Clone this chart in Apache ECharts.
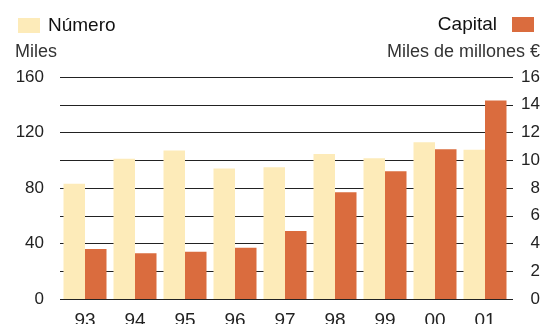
<!DOCTYPE html>
<html>
<head>
<meta charset="utf-8">
<script src="https://cdn.jsdelivr.net/npm/echarts@6/dist/echarts.min.js"></script>
<style>
  html, body { margin: 0; padding: 0; background: #fff; }
  #chart { width: 543px; height: 324px; }
</style>
</head>
<body>
<div id="chart"></div>
<script>
// años (eje x)
const years = ['93', '94', '95', '96', '97', '98', '99', '00', '01'];
// Número, miles (eje izquierdo)
const numero = [83, 101, 107, 94, 95, 104.5, 101.5, 113, 107.5];
// Capital, miles de millones € (eje derecho)
const capital = [3.6, 3.3, 3.4, 3.7, 4.9, 7.7, 9.2, 10.8, 14.3];

const yellow = '#fdebb9';
const orange = '#da6c3e';
const font = 'Liberation Sans, Arial, sans-serif';

let chart = echarts.init(document.getElementById('chart'));
chart.setOption({
    animation: false,
    textStyle: { fontFamily: font },
    legend: [
        {
            data: ['Número'],
            left: 13, top: 11,
            icon: 'rect',
            itemWidth: 22, itemHeight: 15, itemGap: 8,
            textStyle: { fontSize: 19, color: '#111', fontFamily: font, padding: [0, 0, 0, 3] }
        },
        {
            data: ['Capital'],
            right: 4, top: 10,
            align: 'right',
            icon: 'rect',
            itemWidth: 22, itemHeight: 15,
            textStyle: { fontSize: 19, color: '#111', fontFamily: font, padding: [0, 10, 0, 0] }
        }
    ],
    graphic: [
        { type: 'text', left: 15, top: 43, style: { text: 'Miles', fontSize: 18, fill: '#333', fontFamily: font } },
        { type: 'text', right: 3, top: 43, style: { text: 'Miles de millones €', fontSize: 18, fill: '#333', fontFamily: font } }
    ],
    grid: { left: 60, right: 33, top: 77, bottom: 25, outerBoundsMode: 'none' },
    xAxis: {
        type: 'category',
        data: years,
        axisLine: { show: false },
        axisTick: { show: false },
        axisLabel: { fontSize: 19, color: '#222', margin: 12 }
    },
    yAxis: [
        {
            type: 'value',
            min: 0, max: 160, interval: 20,
            axisLine: { show: false },
            axisTick: { show: false },
            splitLine: { lineStyle: { color: '#222', width: 1 } },
            axisLabel: {
                fontSize: 17, color: '#222', margin: 16,
                formatter: v => (v % 40 === 0 ? v : '')
            }
        },
        {
            type: 'value',
            min: 0, max: 16, interval: 2,
            axisLine: { show: false },
            axisTick: { show: true, length: 3, lineStyle: { color: '#222' } },
            splitLine: { show: false },
            axisLabel: { fontSize: 17, color: '#222', margin: 30, align: 'right' }
        }
    ],
    series: [
        {
            name: 'Número',
            type: 'bar',
            data: numero,
            yAxisIndex: 0,
            barGap: '0%',
            barCategoryGap: '14%',
            itemStyle: { color: yellow }
        },
        {
            name: 'Capital',
            type: 'bar',
            data: capital,
            yAxisIndex: 1,
            itemStyle: { color: orange }
        }
    ]
});
</script>
</body>
</html>
